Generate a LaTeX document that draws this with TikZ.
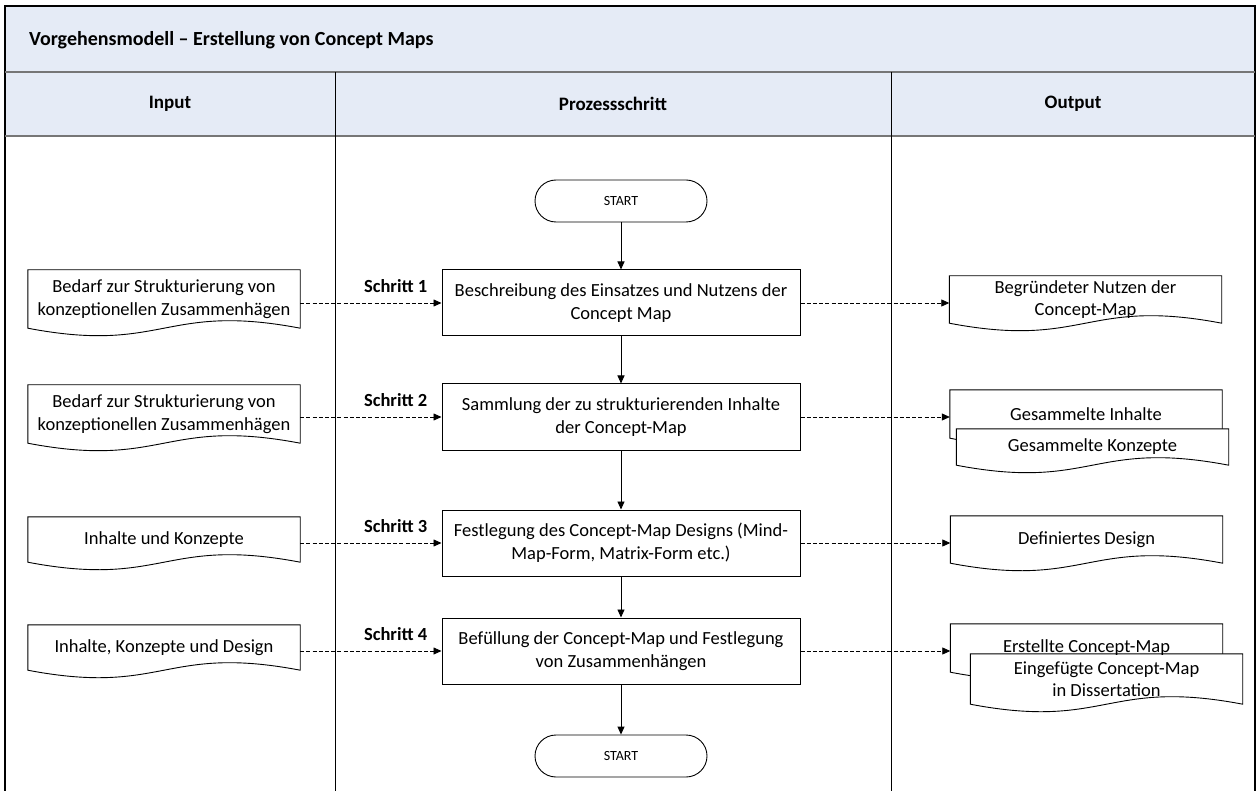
\documentclass[tikz,border=0pt]{standalone}
\usepackage{fontspec}
\setmainfont{Carlito}
\usetikzlibrary{arrows.meta,positioning,backgrounds}
\definecolor{headblue}{RGB}{229,235,246}
\definecolor{rulegray}{RGB}{118,118,118}
\tikzset{
    > = {Triangle[length=8pt,width=7pt]},
    flow/.style = {->, line width=0.9pt},
    feed/.style = {->, line width=0.8pt, dash pattern=on 4pt off 2.2pt},
    stepbox/.style = {draw, line width=1pt, minimum width=358pt, minimum height=66pt,
        align=center, inner sep=0pt, font=\fontsize{18.5}{23}\selectfont},
    terminal/.style = {draw, line width=0.9pt, rounded corners=21pt, minimum width=172pt,
        minimum height=42pt, inner sep=0pt, font=\fontsize{14}{16}\selectfont},
    doc/.style = {minimum width=272pt, minimum height=#1, inner sep=0pt, align=center,
        font=\fontsize{18.5}{22.5}\selectfont},
    steplabel/.style = {inner sep=0pt, font=\bfseries\fontsize{18.5}{22}\selectfont},
    colhead/.style = {inner sep=0pt, font=\bfseries\fontsize{19}{23}\selectfont}
}
\newcommand{\docframe}[1]{%
    \draw[line width=0.9pt, fill=white] (#1.north west) -- (#1.north east) -- (#1.south east)
        .. controls ([yshift=26pt]#1.south) and ([yshift=-26pt]#1.south) .. (#1.south west) -- cycle;
}

\begin{document}
\begin{tikzpicture}[x=1pt, y=-1pt]
    \useasboundingbox (0,0) rectangle (1258,791);

    \fill[headblue] (5,6) rectangle (1255,136);
    \draw[line width=1.2pt] (5,791) -- (5,6) -- (1255,6) -- (1255,791);
    \draw[rulegray, line width=2pt] (5,72) -- (1255,72);
    \draw[rulegray, line width=2pt] (5,136) -- (1255,136);
    \draw[line width=0.9pt] (335,72) -- (335,791);
    \draw[line width=0.9pt] (891,72) -- (891,791);

    \node[anchor=west, inner sep=0pt, font=\bfseries\fontsize{20}{24}\selectfont] (title) at (29,40)
        {Vorgehensmodell -- Erstellung von Concept Maps};
    \node[colhead] (hin) at (170,104) {Input};
    \node[colhead] (hproc) at (613,104) {Prozessschritt};
    \node[colhead] (hout) at (1073,104) {Output};

    \node[terminal] (start) at (621,201) {START};
    \node[stepbox] (s1) at (621,303) {Beschreibung des Einsatzes und Nutzens der\\Concept Map};
    \node[stepbox] (s2) at (621,417) {Sammlung der zu strukturierenden Inhalte\\der Concept-Map};
    \node[stepbox] (s3) at (621,543) {Festlegung des Concept-Map Designs (Mind-\\Map-Form, Matrix-Form etc.)};
    \node[stepbox] (s4) at (621,651) {Befüllung der Concept-Map und Festlegung\\von Zusammenhängen};
    \node[terminal] (stop) at (621,756) {START};

    \node[steplabel, above left=10pt and 14pt of s1.west] (l1) {Schritt 1};
    \node[steplabel, above left=10pt and 14pt of s2.west] (l2) {Schritt 2};
    \node[steplabel, above left=10pt and 14pt of s3.west] (l3) {Schritt 3};
    \node[steplabel, above left=10pt and 14pt of s4.west] (l4) {Schritt 4};

    \node[doc=58pt] (in1) at (164,299) {Bedarf zur Strukturierung von\\konzeptionellen Zusammenhägen};
    \node[doc=58pt] (in2) at (164,414) {Bedarf zur Strukturierung von\\konzeptionellen Zusammenhägen};
    \node[doc=45pt] (in3) at (164,539.5) {Inhalte und Konzepte};
    \node[doc=45pt] (in4) at (164,647.5) {Inhalte, Konzepte und Design};

    \node[doc=47pt] (out1) at (1085.5,299.5) {Begründeter Nutzen der\\Concept-Map};
    \node[doc=48pt] (out2a) at (1086,414) {Gesammelte Inhalte};
    \node[doc=36pt] (out2b) at (1092.5,447) {Gesammelte Konzepte};
    \node[doc=47pt] (out3) at (1086.5,539.5) {Definiertes Design};
    \node[doc=48pt] (out4a) at (1086.5,648) {Erstellte Concept-Map};
    \node[doc=50pt] (out4b) at (1106.5,679) {Eingefügte Concept-Map\\in Dissertation};

    \begin{scope}[on background layer]
        \docframe{in1} \docframe{in2} \docframe{in3} \docframe{in4}
        \docframe{out1} \docframe{out2a} \docframe{out2b}
        \docframe{out3} \docframe{out4a} \docframe{out4b}
    \end{scope}

    \draw[flow] (start) -- (s1);
    \draw[flow] (s1) -- (s2);
    \draw[flow] (s2) -- (s3);
    \draw[flow] (s3) -- (s4);
    \draw[flow] (s4) -- (stop);

    \draw[feed] (in1.east |- s1) -- (s1);
    \draw[feed] (in2.east |- s2) -- (s2);
    \draw[feed] (in3.east |- s3) -- (s3);
    \draw[feed] (in4.east |- s4) -- (s4);

    \draw[feed] (s1) -- (out1.west |- s1);
    \draw[feed] (s2) -- (out2a.west |- s2);
    \draw[feed] (s3) -- (out3.west |- s3);
    \draw[feed] (s4) -- (out4a.west |- s4);
\end{tikzpicture}
\end{document}
